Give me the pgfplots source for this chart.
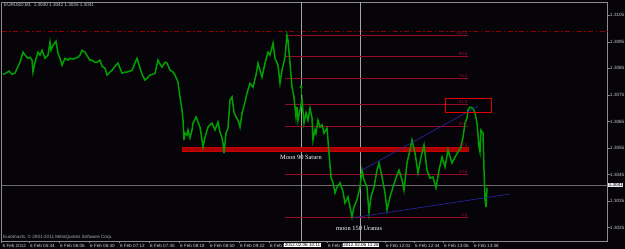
\documentclass[border=0pt]{standalone}
\usepackage{fontspec}
\setmainfont{Liberation Sans}
\newfontfamily\serifff{Liberation Serif}
\usepackage{pgfplots}
\pgfplotsset{compat=1.18}
\usetikzlibrary{arrows.meta}
\definecolor{bg}{RGB}{6,4,8}
\definecolor{mtgreen}{RGB}{0,160,0}
\definecolor{fibo}{RGB}{150,10,40}
\definecolor{ddred}{RGB}{140,0,0}
\definecolor{tl}{RGB}{205,205,205}
\definecolor{frame}{RGB}{140,140,140}
\definecolor{vline}{RGB}{165,165,165}
\definecolor{cline}{RGB}{105,105,105}
\definecolor{tblue}{RGB}{40,40,170}
\definecolor{barred}{RGB}{200,0,0}
\def\mtfont{\fontsize{4.6bp}{5bp}\selectfont}
\def\fibfont{\fontsize{4.4bp}{5bp}\selectfont}
\begin{document}
\begin{tikzpicture}
\fill[bg] (-1.5bp,-8bp) rectangle (623.5bp,241bp);
\begin{axis}[
 at={(0,0)}, anchor=south west, scale only axis,
 width=606bp, height=239bp,
 xmin=1.5, xmax=607.5, ymin=1.302, ymax=1.311,
 axis line style={frame, line width=0.6bp},
 clip mode=individual,
 tick align=outside,
 major tick length=2bp,
 xtick pos=bottom, ytick pos=right,
 tick style={frame, line width=0.5bp},
 xtick={1.5,29,59,89,119,149,179,209,239,269,327,385,414,443,473},
 xticklabels={6 Feb 2012,6 Feb 05:34,6 Feb 06:06,6 Feb 06:40,6 Feb 07:12,6 Feb 07:45,6 Feb 08:18,6 Feb 08:50,6 Feb 09:22,6 Feb 0,6 Feb 1,6 Feb 12:02,6 Feb 12:34,6 Feb 13:06,6 Feb 13:38},
 xticklabel style={font=\mtfont, text=tl, anchor=north west, inner sep=0.5bp, xshift=0.5bp},
 ytick={1.3025,1.3035,1.3045,1.3055,1.3065,1.3075,1.3085,1.3095,1.3105},
 yticklabels={1.3025,1.3035,1.3045,1.3055,1.3065,1.3075,1.3085,1.3095,1.3105},
 yticklabel style={font=\mtfont, text=tl, anchor=west, inner sep=0.5bp},
]
% horizontal dash-dot line
\addplot[ddred, line width=0.8bp, dash pattern=on 5bp off 2.5bp on 1.5bp off 2.5bp] coordinates {(1.5,1.30990) (607.5,1.30990)};
% current price line
\addplot[cline, line width=0.6bp] coordinates {(1.5,1.3041) (607.5,1.3041)};
% vertical lines
\addplot[vline, line width=0.6bp] coordinates {(301,1.302) (301,1.311)};
\addplot[vline, line width=0.6bp] coordinates {(360,1.302) (360,1.311)};
% Fibonacci levels
\addplot[fibo, line width=0.6bp] coordinates {(285,1.30975) (468,1.30975)};
\addplot[fibo, line width=0.6bp] coordinates {(285,1.30897) (468,1.30897)};
\addplot[fibo, line width=0.6bp] coordinates {(285,1.30814) (468,1.30814)};
\addplot[fibo, line width=0.6bp] coordinates {(285,1.30714) (468,1.30714)};
\addplot[fibo, line width=0.6bp] coordinates {(285,1.30633) (468,1.30633)};
\addplot[fibo, line width=0.6bp] coordinates {(285,1.30552) (468,1.30552)};
\addplot[fibo, line width=0.6bp] coordinates {(285,1.30452) (468,1.30452)};
\addplot[fibo, line width=0.6bp] coordinates {(285,1.30291) (468,1.30291)};
% Moon 90 Saturn bar
\addplot[draw=barred, fill=barred!85!black, line width=0.5bp] coordinates {(182,1.30554) (468,1.30554) (468,1.30539) (182,1.30539)} -- cycle;
% price series
\addplot[mtgreen, line width=1.5bp, line join=miter] coordinates {
(3,1.30828) (6,1.30832) (9,1.30840) (12,1.30828) (15,1.30832) (18,1.30858) (20,1.30873)
(23,1.30911) (25,1.30900) (28,1.30888) (30,1.30892) (32,1.30881) (33,1.30836) (35,1.30873)
(38,1.30911) (40,1.30900) (42,1.30918) (45,1.30888) (48,1.30900) (50,1.30949) (51,1.30918)
(53,1.30937) (56,1.30952) (58,1.30907) (60,1.30888) (62,1.30862) (65,1.30888) (68,1.30881)
(70,1.30888) (73,1.30885) (75,1.30888) (78,1.30892) (80,1.30900) (82,1.30918) (85,1.30911)
(88,1.30892) (90,1.30881) (92,1.30881) (95,1.30873) (97,1.30873) (100,1.30881) (102,1.30858)
(105,1.30851) (107,1.30825) (110,1.30836) (112,1.30843) (115,1.30858) (118,1.30870) (120,1.30851)
(122,1.30832) (125,1.30836) (127,1.30836) (130,1.30840) (132,1.30843) (135,1.30870) (137,1.30888)
(140,1.30851) (142,1.30828) (145,1.30806) (147,1.30813) (150,1.30825) (153,1.30828) (155,1.30832)
(158,1.30881) (160,1.30866) (162,1.30855) (165,1.30873) (167,1.30870) (170,1.30843) (173,1.30836)
(175,1.30825) (178,1.30798) (180,1.30742) (182,1.30693) (183,1.30655) (184,1.30580) (185,1.30606)
(187,1.30599) (188,1.30618) (190,1.30588) (192,1.30618) (193,1.30644) (196,1.30667) (198,1.30648)
(200,1.30629) (202,1.30580) (203,1.30554) (205,1.30591) (208,1.30629) (210,1.30637) (212,1.30644)
(215,1.30618) (218,1.30648) (220,1.30610) (222,1.30588) (223,1.30569) (224,1.30531) (226,1.30606)
(228,1.30625) (230,1.30731) (232,1.30742) (234,1.30685) (236,1.30667) (238,1.30655) (240,1.30629)
(242,1.30682) (245,1.30723) (247,1.30757) (250,1.30794) (253,1.30779) (256,1.30825) (258,1.30870)
(260,1.30843) (262,1.30817) (265,1.30870) (268,1.30911) (270,1.30900) (273,1.30945) (275,1.30888)
(278,1.30862) (280,1.30794) (282,1.30843) (285,1.30892) (287,1.30975) (288,1.30956) (290,1.30870)
(292,1.30779) (294,1.30742) (296,1.30667) (297,1.30704) (298,1.30655) (300,1.30693) (302,1.30731)
(304,1.30644) (306,1.30682) (308,1.30655) (310,1.30700) (312,1.30663) (313,1.30580) (315,1.30618)
(316,1.30606) (318,1.30655) (320,1.30629) (322,1.30637) (324,1.30606) (327,1.30625) (329,1.30531)
(331,1.30441) (333,1.30419) (335,1.30381) (337,1.30403) (340,1.30419) (343,1.30385) (345,1.30343)
(348,1.30366) (350,1.30328) (352,1.30291) (354,1.30328) (357,1.30355) (360,1.30403) (362,1.30467)
(364,1.30430) (367,1.30403) (369,1.30306) (371,1.30366) (374,1.30403) (377,1.30467) (379,1.30494)
(382,1.30441) (385,1.30381) (387,1.30317) (390,1.30366) (393,1.30403) (396,1.30437) (399,1.30467)
(402,1.30430) (404,1.30392) (407,1.30494) (410,1.30543) (412,1.30580) (415,1.30531) (418,1.30456)
(421,1.30516) (424,1.30561) (427,1.30467) (430,1.30437) (433,1.30441) (436,1.30400) (439,1.30467)
(442,1.30516) (445,1.30479) (448,1.30543) (452,1.30494) (455,1.30516) (458,1.30535) (461,1.30554)
(463,1.30591) (465,1.30644) (467,1.30663) (468,1.30693) (470,1.30704) (473,1.30700) (475,1.30682)
(477,1.30644) (479,1.30554) (480,1.30535) (481,1.30618) (483,1.30606) (484,1.30467) (485,1.30355)
(486,1.30328) (487,1.30400)
};
% trend lines
\addplot[tblue, line width=0.6bp] coordinates {(362,1.30467) (478,1.30708)};
\addplot[tblue, line width=0.6bp] coordinates {(352,1.30287) (510,1.30377)};
% red box
\addplot[red!90!black, line width=0.8bp] coordinates {(445,1.30738) (491,1.30738) (491,1.30685) (445,1.30685)} -- cycle;
% green arrow
\addplot[mtgreen, line width=1bp, -{Triangle[width=3.5bp,length=2.5bp]}] coordinates {(301,1.30749) (301,1.30787)};
% fibo labels
\node[anchor=south east, text=fibo, font=\fibfont, inner sep=0.4bp] at (axis cs:468,1.30975) {100.0};
\node[anchor=south east, text=fibo, font=\fibfont, inner sep=0.4bp] at (axis cs:468,1.30897) {88.6};
\node[anchor=south east, text=fibo, font=\fibfont, inner sep=0.4bp] at (axis cs:468,1.30814) {76.4};
\node[anchor=south east, text=fibo, font=\fibfont, inner sep=0.4bp] at (axis cs:468,1.30714) {61.8};
\node[anchor=south east, text=fibo, font=\fibfont, inner sep=0.4bp] at (axis cs:468,1.30633) {50.0};
\node[anchor=south east, text=fibo, font=\fibfont, inner sep=0.4bp] at (axis cs:468,1.30552) {38.2};
\node[anchor=south east, text=fibo, font=\fibfont, inner sep=0.4bp] at (axis cs:468,1.30452) {23.6};
\node[anchor=south east, text=fibo, font=\fibfont, inner sep=0.4bp] at (axis cs:468,1.30291) {0.0};
\end{axis}
% texts
\node[anchor=west, text=tl, font=\mtfont, inner sep=0pt] at (2.5bp,236bp) {EURUSD,M1 \ 1.3040 1.3042 1.3035 1.3041};
\node[anchor=west, text=tl!85!black, font=\mtfont, inner sep=0pt] at (1.5bp,4bp) {Euromaxfx, © 2001-2011 MetaQuotes Software Corp.};
\node[anchor=west, text=white, font=\serifff\fontsize{6.4bp}{7bp}\selectfont, inner sep=0pt] at (278.5bp,84bp) {Moon 90 Saturn};
\node[anchor=west, text=white, font=\serifff\fontsize{6.4bp}{7bp}\selectfont, inner sep=0pt] at (334.5bp,13bp) {moon 150 Uranus};
\node[fill=white, text=black, font=\mtfont, inner sep=0.6bp] at (301bp,-4bp) {2012.02.06 10:11};
\node[fill=white, text=black, font=\mtfont, inner sep=0.6bp] at (359.5bp,-4bp) {2012.02.06 11:28};
\node[fill=white!85!gray, text=black, font=\mtfont, anchor=west, inner sep=0.6bp] at (606.5bp,56bp) {1.3041};
\pgfresetboundingbox
\path[use as bounding box] (-1.5bp,-8bp) rectangle (623.5bp,241bp);
\end{tikzpicture}
\end{document}
